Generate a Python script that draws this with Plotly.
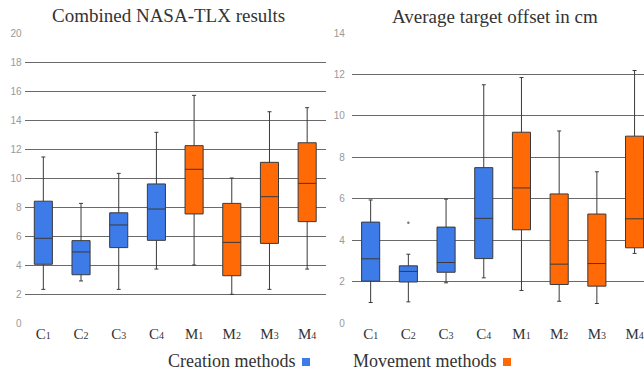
import plotly.graph_objects as go

# ---------------- data ----------------
categories = ["C1", "C2", "C3", "C4", "M1", "M2", "M3", "M4"]
creation_cats = categories[:4]
movement_cats = categories[4:]

# Combined NASA-TLX results
tlx_c_low = [2.32, 2.90, 2.32, 3.72]
tlx_c_q1 = [4.05, 3.33, 5.20, 5.70]
tlx_c_med = [5.84, 4.90, 6.76, 7.86]
tlx_c_q3 = [8.40, 5.68, 7.60, 9.59]
tlx_c_high = [11.45, 8.25, 10.32, 13.15]

tlx_m_low = [4.00, 1.98, 2.32, 3.72]
tlx_m_q1 = [7.52, 3.26, 5.49, 6.99]
tlx_m_med = [10.60, 5.56, 8.71, 9.63]
tlx_m_q3 = [12.23, 8.25, 11.08, 12.43]
tlx_m_high = [15.70, 10.00, 14.57, 14.85]

# Average target offset in cm
off_c_low = [0.99, 1.02, 1.94, 2.18]
off_c_q1 = [2.02, 1.98, 2.45, 3.11]
off_c_med = [3.10, 2.49, 2.92, 5.05]
off_c_q3 = [4.87, 2.76, 4.63, 7.50]
off_c_high = [5.94, 3.32, 5.98, 11.50]

off_m_low = [1.57, 1.05, 0.94, 3.36]
off_m_q1 = [4.50, 1.86, 1.78, 3.63]
off_m_med = [6.52, 2.84, 2.87, 5.03]
off_m_q3 = [9.21, 6.23, 5.26, 9.02]
off_m_high = [11.85, 9.27, 7.30, 12.19]

off_outlier_cat = ["C2"]
off_outlier_val = [4.84]

tlx_ticks = [0, 2, 4, 6, 8, 10, 12, 14, 16, 18, 20]
off_ticks = [0, 2, 4, 6, 8, 10, 12, 14]

# ---------------- styling ----------------
W, H = 644, 372
TOP, BOT = 33, 323
L1, R1 = 24.5, 326
L2 = 351.8
BLUE = "#3d7be8"
ORANGE = "#ff6a06"
EDGE = "#3a3a3a"
SERIF = "Liberation Serif"


def px_x(x):
    return x / W


def px_y(y):
    return (BOT - y) / (BOT - TOP)


ticktext = [c[0] + "<span style='font-size:10px'>" + c[1] + "</span>" for c in categories]

fig = go.Figure()


def add_boxes(cats, low, q1, med, q3, high, color, xa, ya):
    fig.add_trace(go.Box(
        x=cats, q1=q1, median=med, q3=q3, lowerfence=low, upperfence=high,
        fillcolor=color, line=dict(color=EDGE, width=1), width=0.48,
        whiskerwidth=0.22, boxpoints=False, showlegend=False,
        xaxis=xa, yaxis=ya, hoverinfo="skip",
    ))


add_boxes(creation_cats, tlx_c_low, tlx_c_q1, tlx_c_med, tlx_c_q3, tlx_c_high, BLUE, "x", "y")
add_boxes(movement_cats, tlx_m_low, tlx_m_q1, tlx_m_med, tlx_m_q3, tlx_m_high, ORANGE, "x", "y")
add_boxes(creation_cats, off_c_low, off_c_q1, off_c_med, off_c_q3, off_c_high, BLUE, "x2", "y2")
add_boxes(movement_cats, off_m_low, off_m_q1, off_m_med, off_m_q3, off_m_high, ORANGE, "x2", "y2")

fig.add_trace(go.Scatter(
    x=off_outlier_cat, y=off_outlier_val, mode="markers",
    marker=dict(size=2.5, color="#777"), showlegend=False,
    xaxis="x2", yaxis="y2", hoverinfo="skip",
))

xcommon = dict(
    type="category", categoryorder="array", categoryarray=categories,
    tickvals=categories, ticktext=ticktext, showgrid=False, zeroline=False,
    showline=False, ticks="", tickfont=dict(family=SERIF, size=15, color="#333"),
)
ycommon = dict(
    showgrid=True, gridcolor="#6a6a6a", gridwidth=1, zeroline=False,
    showline=False, ticks="", tickfont=dict(family="Liberation Sans", size=10, color="#999"),
)

fig.update_layout(
    width=W, height=H,
    margin=dict(l=0, r=0, t=TOP, b=H - BOT),
    paper_bgcolor="white", plot_bgcolor="white",
    boxmode="overlay",
    xaxis=dict(domain=[px_x(L1), px_x(R1)], range=[-0.5, 7.5], anchor="y", **xcommon),
    xaxis2=dict(domain=[px_x(L2), 1.0], range=[-0.5, 7.25], anchor="y2", **xcommon),
    yaxis=dict(range=[0, 20], tickvals=tlx_ticks, anchor="x", ticklabelstandoff=2, **ycommon),
    yaxis2=dict(range=[0, 14], tickvals=off_ticks, anchor="x2", ticklabelstandoff=6, **ycommon),
)

fig.add_annotation(text="Combined NASA-TLX results", xref="paper", yref="paper",
                   x=px_x(168), y=px_y(15), xanchor="center", yanchor="middle",
                   showarrow=False, font=dict(family=SERIF, size=19, color="#333"))
fig.add_annotation(text="Average target offset in cm", xref="paper", yref="paper",
                   x=px_x(495), y=px_y(16), xanchor="center", yanchor="middle",
                   showarrow=False, font=dict(family=SERIF, size=19, color="#333"))

fig.add_annotation(text="Creation methods", xref="paper", yref="paper",
                   x=px_x(297), y=px_y(361), xanchor="right", yanchor="middle",
                   showarrow=False, font=dict(family=SERIF, size=18, color="#333"))
fig.add_annotation(text="Movement methods", xref="paper", yref="paper",
                   x=px_x(498), y=px_y(361), xanchor="right", yanchor="middle",
                   showarrow=False, font=dict(family=SERIF, size=18, color="#333"))
fig.add_shape(type="rect", xref="paper", yref="paper",
              x0=px_x(302), x1=px_x(310), y0=px_y(366), y1=px_y(358),
              fillcolor=BLUE, line=dict(width=0))
fig.add_shape(type="rect", xref="paper", yref="paper",
              x0=px_x(503), x1=px_x(511), y0=px_y(366), y1=px_y(358),
              fillcolor=ORANGE, line=dict(width=0))

fig.write_html(
    "out.html",
    config={"displayModeBar": False},
    post_script="document.body.style.margin='0';document.body.style.overflow='hidden';",
)
